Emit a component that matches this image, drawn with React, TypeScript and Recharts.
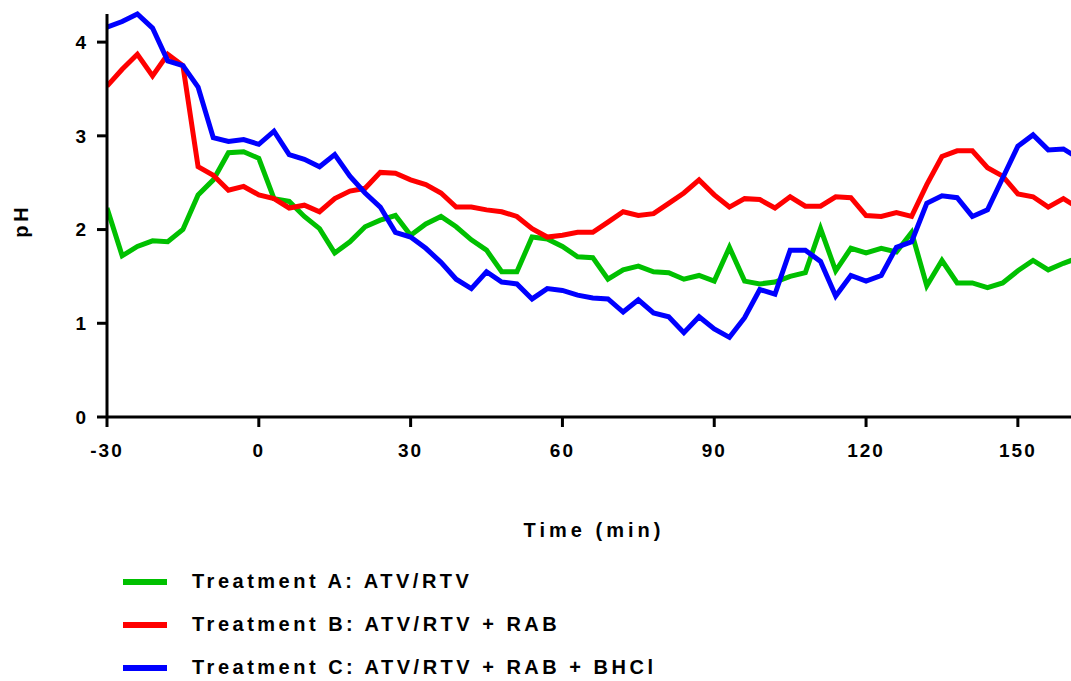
import { LineChart, Line, XAxis, YAxis, Legend, Label } from 'recharts'

// time points (min), sampled every 3 min
const times = [
  -30, -27, -24, -21, -18, -15, -12, -9, -6, -3, 0, 3, 6, 9, 12, 15, 18, 21, 24, 27, 30, 33,
  36, 39, 42, 45, 48, 51, 54, 57, 60, 63, 66, 69, 72, 75, 78, 81, 84, 87, 90, 93, 96, 99,
  102, 105, 108, 111, 114, 117, 120, 123, 126, 129, 132, 135, 138, 141, 144, 147, 150, 153,
  156, 159, 162,
]

const treatmentA = [
  2.23, 1.72, 1.82, 1.88, 1.87, 2.0, 2.37, 2.53, 2.82, 2.83, 2.76, 2.33, 2.3, 2.14, 2.01, 1.75,
  1.87, 2.03, 2.1, 2.15, 1.94, 2.06, 2.14, 2.03, 1.89, 1.78, 1.55, 1.55, 1.92, 1.9, 1.82, 1.71,
  1.7, 1.47, 1.57, 1.61, 1.55, 1.54, 1.47, 1.51, 1.45, 1.81, 1.45, 1.42, 1.44, 1.5, 1.54, 2.01,
  1.56, 1.8, 1.75, 1.8, 1.76, 1.97, 1.4, 1.67, 1.43, 1.43, 1.38, 1.43, 1.56, 1.67, 1.57, 1.64,
  1.7,
]

const treatmentB = [
  3.53, 3.71, 3.87, 3.64, 3.87, 3.75, 2.67, 2.58, 2.42, 2.46, 2.37, 2.33, 2.23, 2.26, 2.19, 2.33,
  2.41, 2.44, 2.61, 2.6, 2.53, 2.48, 2.39, 2.24, 2.24, 2.21, 2.19, 2.14, 2.01, 1.92, 1.94, 1.97,
  1.97, 2.08, 2.19, 2.15, 2.17, 2.28, 2.39, 2.53, 2.37, 2.24, 2.33, 2.32, 2.23, 2.35, 2.25, 2.25,
  2.35, 2.34, 2.15, 2.14, 2.18, 2.14, 2.48, 2.78, 2.84, 2.84, 2.66, 2.57, 2.38, 2.35, 2.24, 2.33,
  2.23,
]

const treatmentC = [
  4.16, 4.22, 4.3, 4.15, 3.8, 3.75, 3.52, 2.98, 2.94, 2.96, 2.91, 3.05, 2.8, 2.75, 2.67, 2.8,
  2.57, 2.39, 2.24, 1.97, 1.92, 1.8, 1.65, 1.47, 1.37, 1.55, 1.44, 1.42, 1.26, 1.37, 1.35, 1.3,
  1.27, 1.26, 1.12, 1.25, 1.11, 1.07, 0.9, 1.07, 0.94, 0.85, 1.06, 1.36, 1.31, 1.78, 1.78, 1.66,
  1.29, 1.51, 1.45, 1.51, 1.81, 1.87, 2.28, 2.36, 2.34, 2.14, 2.21, 2.55, 2.89, 3.01, 2.85, 2.86,
  2.76,
]

const xTicks = [-30, 0, 30, 60, 90, 120, 150]
const yTicks = [0, 1, 2, 3, 4]

const series = [
  { key: 'a', name: 'Treatment A: ATV/RTV', color: '#00c000' },
  { key: 'b', name: 'Treatment B: ATV/RTV + RAB', color: '#ff0000' },
  { key: 'c', name: 'Treatment C: ATV/RTV + RAB + BHCl', color: '#0000ff' },
]

const data = times.map((t, i) => ({
  t,
  a: treatmentA[i],
  b: treatmentB[i],
  c: treatmentC[i],
}))

const font = '"Liberation Sans", Arial, sans-serif'

const tickStyle = {
  fontFamily: font,
  fontSize: 19,
  fontWeight: 700,
  fill: '#000',
  letterSpacing: 2,
}

function LegendBox() {
  return (
    <div style={{ fontFamily: font }}>
      {series.map((s) => (
        <div
          key={s.key}
          style={{ display: 'flex', alignItems: 'center', height: 43 }}
        >
          <div style={{ width: 44, height: 6, background: s.color }} />
          <span
            style={{
              marginLeft: 25,
              fontSize: 20,
              fontWeight: 700,
              letterSpacing: 3.5,
              color: '#000',
            }}
          >
            {s.name}
          </span>
        </div>
      ))}
    </div>
  )
}

export default function App() {
  return (
    <div
      style={{
        position: 'absolute',
        left: 0,
        top: 0,
        width: 1071,
        height: 681,
        overflow: 'hidden',
        background: '#fff',
      }}
    >
      <LineChart
        width={1071}
        height={681}
        data={data}
        margin={{ top: 14, right: 0, bottom: 134, left: 0 }}
      >
        <XAxis
          dataKey="t"
          type="number"
          domain={[-30, 160.5]}
          ticks={xTicks}
          interval={0}
          allowDataOverflow
          height={130}
          stroke="#000"
          strokeWidth={3}
          tickSize={10}
          tickMargin={17}
          tick={tickStyle}
        >
          <Label
            content={({ viewBox }: any) => (
              <text
                x={viewBox.x + viewBox.width / 2 + 5}
                y={viewBox.y + 120}
                textAnchor="middle"
                fontFamily={font}
                fontSize={20}
                fontWeight={700}
                letterSpacing={4}
                fill="#000"
              >
                Time (min)
              </text>
            )}
          />
        </XAxis>
        <YAxis
          type="number"
          domain={[0, 4.3]}
          ticks={yTicks}
          interval={0}
          width={107}
          stroke="#000"
          strokeWidth={3}
          tickSize={10}
          tickMargin={9}
          tick={tickStyle}
        >
          <Label
            content={({ viewBox }: any) => {
              const cx = 28
              const cy = viewBox.y + viewBox.height / 2 + 5
              return (
                <text
                  x={cx}
                  y={cy}
                  transform={`rotate(-90 ${cx} ${cy})`}
                  textAnchor="middle"
                  fontFamily={font}
                  fontSize={20}
                  fontWeight={700}
                  letterSpacing={4}
                  fill="#000"
                >
                  pH
                </text>
              )
            }}
          />
        </YAxis>
        {series.map((s) => (
          <Line
            key={s.key}
            type="linear"
            dataKey={s.key}
            name={s.name}
            stroke={s.color}
            strokeWidth={5}
            dot={false}
            activeDot={false}
            isAnimationActive={false}
          />
        ))}
        <Legend
          layout="horizontal"
          verticalAlign="middle"
          align="center"
          content={() => <LegendBox />}
          wrapperStyle={{ left: 123, top: 560, width: 700, height: 130 }}
        />
      </LineChart>
    </div>
  )
}
